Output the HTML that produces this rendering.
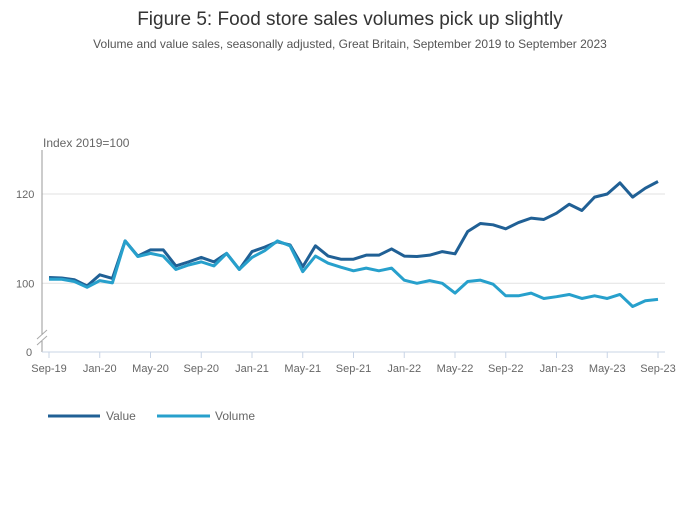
<!DOCTYPE html>
<html><head><meta charset="utf-8"><style>
body{margin:0;background:#fff;font-family:"Liberation Sans",sans-serif}
svg text{font-family:"Liberation Sans",sans-serif}
</style></head><body>
<svg id="chart" width="700" height="502">
<text x="350" y="25" text-anchor="middle" font-size="19" fill="#333">Figure 5: Food store sales volumes pick up slightly</text>
<text x="350" y="48" text-anchor="middle" font-size="12" fill="#555">Volume and value sales, seasonally adjusted, Great Britain, September 2019 to September 2023</text>
<text x="43" y="147" font-size="12" fill="#666">Index 2019=100</text>
<g id="grid"></g>
<line x1="42" y1="150" x2="42" y2="335" stroke="#999"/>
<line x1="42" y1="341" x2="42" y2="352" stroke="#999"/>
<line x1="37" y1="339" x2="47" y2="330" stroke="#aaa"/>
<line x1="37" y1="345" x2="47" y2="336" stroke="#aaa"/>
<line x1="42" y1="352" x2="665" y2="352" stroke="#c8d4e6"/>
<text x="26" y="356" font-size="11" fill="#666">0</text>
<g id="xaxis"></g>
<g id="series"></g>
<line x1="48" y1="416" x2="100" y2="416" stroke="#206095" stroke-width="3"/>
<text x="106" y="420" font-size="12" fill="#666">Value</text>
<line x1="157" y1="416" x2="210" y2="416" stroke="#27a0cc" stroke-width="3"/>
<text x="215" y="420" font-size="12" fill="#666">Volume</text>
</svg>
<script>
const valueSeries=[101.3,101.2,100.8,99.4,101.9,101.1,109.5,106.1,107.5,107.5,103.9,104.8,105.8,104.8,106.7,103.1,107.1,108.1,109.3,108.6,103.7,108.4,106.1,105.4,105.4,106.3,106.3,107.7,106.1,106.0,106.3,107.1,106.6,111.6,113.4,113.1,112.2,113.6,114.6,114.3,115.7,117.7,116.3,119.3,120.0,122.5,119.3,121.3,122.8];
const volumeSeries=[100.9,100.9,100.4,99.1,100.6,100.1,109.5,106.0,106.7,106.1,103.1,104.1,104.8,103.9,106.7,103.1,105.8,107.3,109.5,108.4,102.6,106.1,104.5,103.6,102.8,103.4,102.8,103.4,100.7,100.0,100.6,100.0,97.8,100.4,100.7,99.8,97.2,97.2,97.8,96.6,97.0,97.5,96.6,97.2,96.6,97.5,94.8,96.1,96.4];
const tickLabels=["Sep-19","Jan-20","May-20","Sep-20","Jan-21","May-21","Sep-21","Jan-22","May-22","Sep-22","Jan-23","May-23","Sep-23"];
const yTicks=[100,120];
const NS="http://www.w3.org/2000/svg";
function xs(i){return 49+i*(658-49)/48;}
function ys(v){return 283.3-(v-100)*4.465;}
const grid=document.getElementById('grid');
yTicks.forEach(t=>{
 const l=document.createElementNS(NS,'line');
 l.setAttribute('x1',42);l.setAttribute('x2',665);l.setAttribute('y1',ys(t));l.setAttribute('y2',ys(t));l.setAttribute('stroke','#e2e2e2');
 
 
 grid.appendChild(l);
 const tx=document.createElementNS(NS,'text');
 tx.setAttribute('x',16);tx.setAttribute('y',ys(t)+4);tx.setAttribute('font-size','11');tx.setAttribute('fill','#666');tx.textContent=t;
 
 
 grid.appendChild(tx);
});
const xa=document.getElementById('xaxis');
tickLabels.forEach((lab,k)=>{
 const x=xs(k*4);
 const l=document.createElementNS(NS,'line');
 l.setAttribute('x1',x);l.setAttribute('x2',x);l.setAttribute('y1',352);l.setAttribute('y2',358);l.setAttribute('stroke','#c8d4e6');
 
 
 xa.appendChild(l);
 const tx=document.createElementNS(NS,'text');
 tx.setAttribute('x',x);tx.setAttribute('y',372);tx.setAttribute('font-size','11');tx.setAttribute('fill','#666');tx.setAttribute('text-anchor','middle');tx.textContent=lab;
 
 
 xa.appendChild(tx);
});
const sg=document.getElementById('series');
function draw(arr,color,name){
 const p=document.createElementNS(NS,'polyline');
 p.setAttribute('points',arr.map((v,i)=>xs(i)+','+ys(v)).join(' '));
 p.setAttribute('fill','none');p.setAttribute('stroke',color);p.setAttribute('stroke-width','3');p.setAttribute('stroke-linejoin','round');
 
 
 sg.appendChild(p);
}
draw(valueSeries,'#206095','value-line');
draw(volumeSeries,'#27a0cc','volume-line');
</script>
</body></html>
